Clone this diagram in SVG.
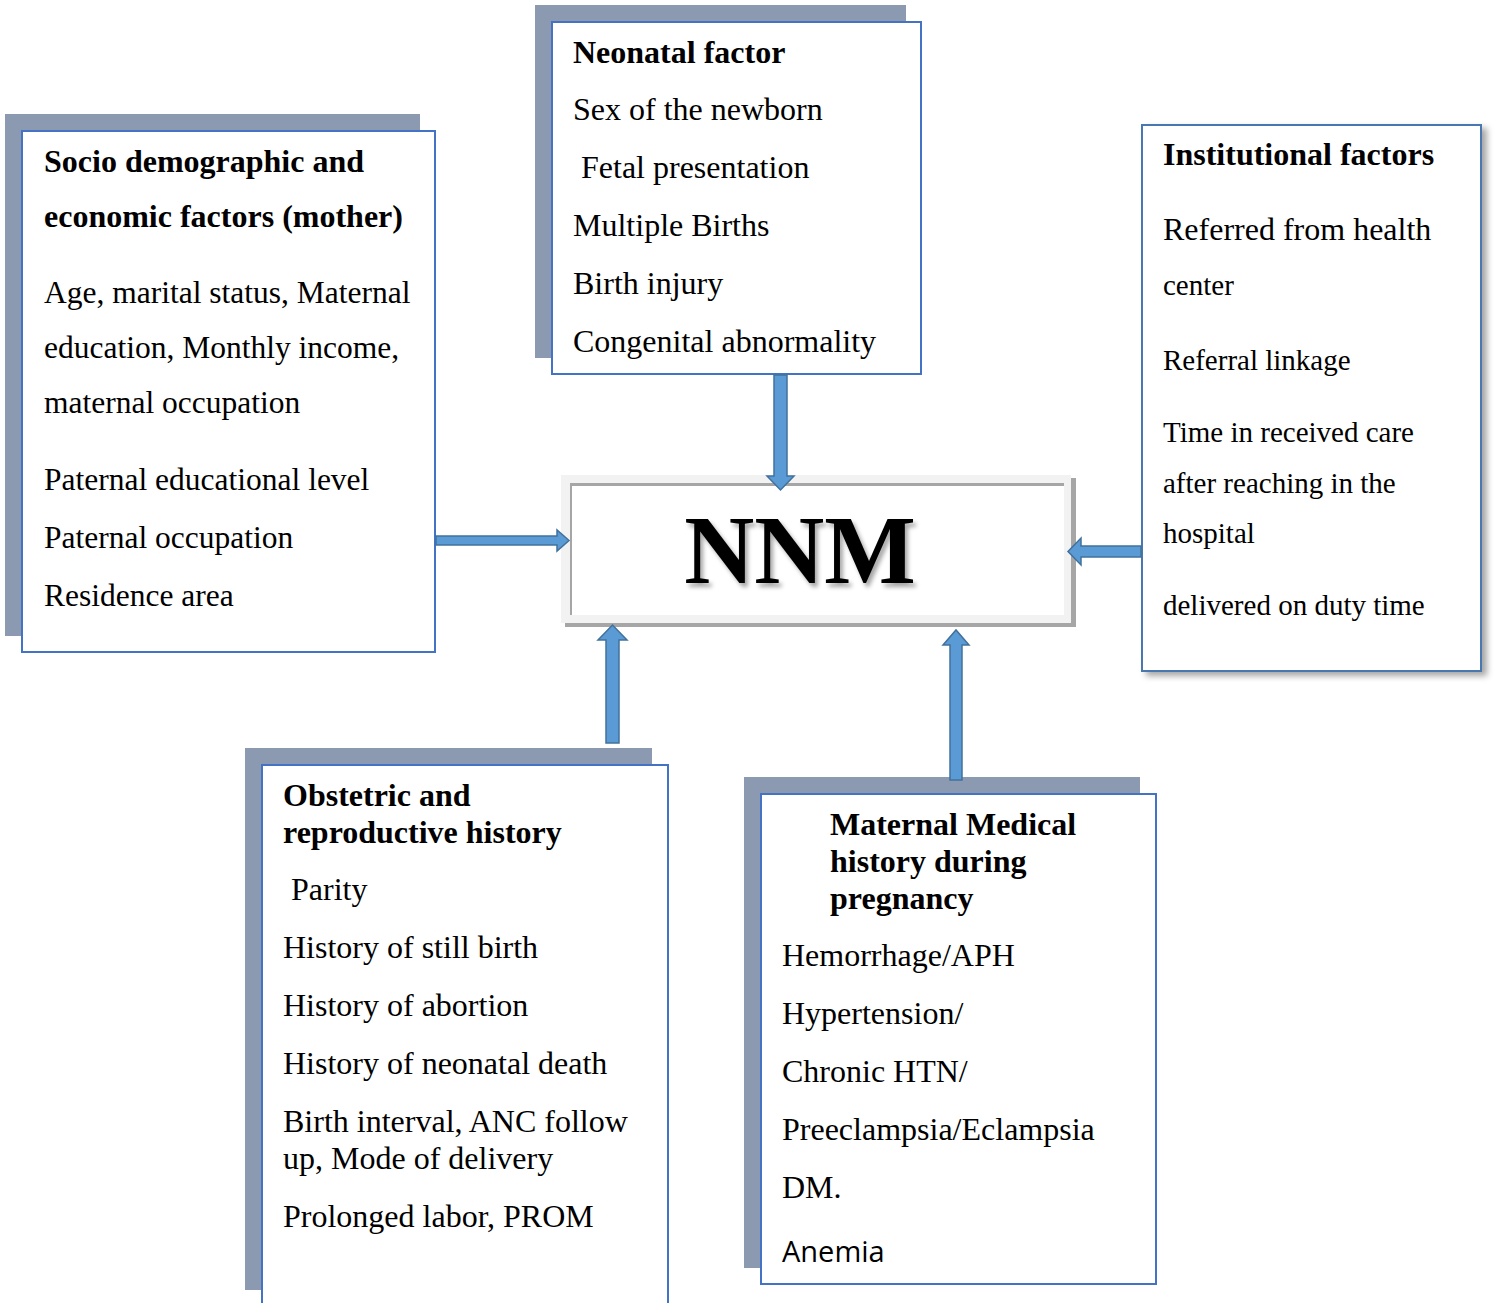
<svg xmlns="http://www.w3.org/2000/svg" width="1497" height="1303" viewBox="0 0 1497 1303">
<defs>
<style>
.shadow{fill:#8C9AB1}
.box{fill:#fff;stroke:#4472C4;stroke-width:2}
.t{font-family:"Liberation Serif","Times New Roman",serif;font-size:32px;fill:#000}
.r{font-size:31.5px}
.s{font-size:29px}
.b{font-weight:bold}
.arrow{fill:#5B9BD5;stroke:#41719C;stroke-width:1.5;stroke-linejoin:miter}
</style>
<filter id="soft" x="-10%" y="-10%" width="125%" height="125%">
<feDropShadow dx="5" dy="4" stdDeviation="3" flood-color="#000" flood-opacity="0.35"/>
</filter>
<filter id="txtsh" x="-10%" y="-10%" width="130%" height="130%">
<feDropShadow dx="3" dy="4" stdDeviation="2" flood-color="#000" flood-opacity="0.35"/>
</filter>
</defs>
<rect width="1497" height="1303" fill="#fff"/>

<g id="socio">
<rect class="shadow" x="5" y="114" width="415" height="522"/>
<rect class="box" x="22" y="131" width="413" height="521"/>
<text class="t b" x="44" y="172">Socio demographic and</text>
<text class="t b" x="44" y="227">economic factors (mother)</text>
<text class="t r" x="44" y="303">Age, marital status, Maternal</text>
<text class="t r" x="44" y="358">education, Monthly income,</text>
<text class="t r" x="44" y="413">maternal occupation</text>
<text class="t r" x="44" y="490">Paternal educational level</text>
<text class="t r" x="44" y="548">Paternal occupation</text>
<text class="t r" x="44" y="606">Residence area</text>
</g>

<g id="neonatal">
<rect class="shadow" x="535" y="5" width="371" height="353"/>
<rect class="box" x="552" y="22" width="369" height="352"/>
<text class="t b" x="573" y="63">Neonatal factor</text>
<text class="t" x="573" y="120">Sex of the newborn</text>
<text class="t" x="581" y="178">Fetal presentation</text>
<text class="t" x="573" y="236">Multiple Births</text>
<text class="t" x="573" y="294">Birth injury</text>
<text class="t" x="573" y="352">Congenital abnormality</text>
</g>

<g id="nnm">
<rect x="565" y="478" width="511" height="149" fill="#A6A6A6"/>
<rect x="561" y="475" width="510" height="148" fill="#F2F2F2"/>
<rect x="570" y="483" width="494" height="132" fill="#fff"/>
<rect x="570" y="483" width="494" height="3" fill="#A6A6A6"/>
<rect x="570" y="483" width="2" height="132" fill="#A6A6A6"/>
<text class="t b" x="800" y="583" text-anchor="middle" style="font-size:97px" filter="url(#txtsh)">NNM</text>
</g>

<g id="institutional">
<rect class="box" x="1142" y="125" width="339" height="546" filter="url(#soft)" style="stroke:#4A78AE"/>
<text class="t b" x="1163" y="165">Institutional factors</text>
<text class="t" x="1163" y="240">Referred from health</text>
<text class="t s" x="1163" y="295">center</text>
<text class="t s" x="1163" y="370">Referral linkage</text>
<text class="t s" x="1163" y="442">Time in received care</text>
<text class="t s" x="1163" y="493">after reaching in the</text>
<text class="t s" x="1163" y="543">hospital</text>
<text class="t s" x="1163" y="615">delivered on duty time</text>
</g>

<g id="obstetric">
<rect class="shadow" x="245" y="748" width="407" height="542"/>
<rect class="box" x="262" y="765" width="406" height="550"/>
<text class="t b" x="283" y="806">Obstetric and</text>
<text class="t b" x="283" y="843">reproductive history</text>
<text class="t" x="291" y="900">Parity</text>
<text class="t" x="283" y="958">History of still birth</text>
<text class="t" x="283" y="1016">History of abortion</text>
<text class="t" x="283" y="1074">History of neonatal death</text>
<text class="t" x="283" y="1132">Birth interval, ANC follow</text>
<text class="t" x="283" y="1169">up, Mode of delivery</text>
<text class="t" x="283" y="1227">Prolonged labor, PROM</text>
</g>

<g id="maternal">
<rect class="shadow" x="744" y="777" width="396" height="491"/>
<rect class="box" x="761" y="794" width="395" height="490"/>
<text class="t b" x="830" y="835">Maternal Medical</text>
<text class="t b" x="830" y="872">history during</text>
<text class="t b" x="830" y="909">pregnancy</text>
<text class="t" x="782" y="966">Hemorrhage/APH</text>
<text class="t" x="782" y="1024">Hypertension/</text>
<text class="t" x="782" y="1082">Chronic HTN/</text>
<text class="t" x="782" y="1140">Preeclampsia/Eclampsia</text>
<text class="t" x="782" y="1198">DM.</text>
<text x="782" y="1262" style="font-family:'Open Sans','Noto Sans',sans-serif;font-size:29px;fill:#000">Anemia</text>
</g>

<g id="connectors">
<polygon class="arrow" points="774,375 787,375 787,476 794,476 780.5,490 767,476 774,476"/>
<polygon class="arrow" points="436,536 557,536 557,530 569,540.5 557,551 557,545 436,545"/>
<polygon class="arrow" points="1141,546 1081,546 1081,538 1068,551.5 1081,565 1081,557 1141,557"/>
<polygon class="arrow" points="606,743 606,640 598,640 612.5,625 627,640 619,640 619,743"/>
<polygon class="arrow" points="950,780 950,645 943,645 956,630 969,645 962,645 962,780"/>
</g>
</svg>
